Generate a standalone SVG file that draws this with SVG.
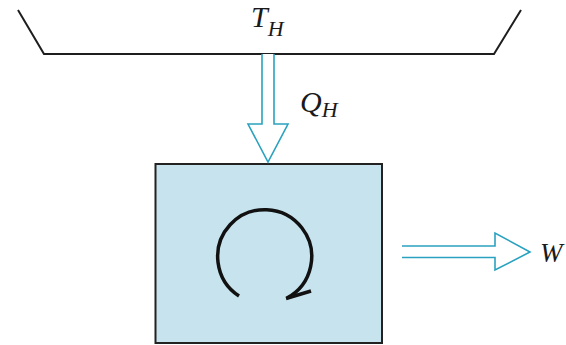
<svg xmlns="http://www.w3.org/2000/svg" width="566" height="345" viewBox="0 0 566 345">
<style>
.ink{fill:none;stroke:#1e1e1e;stroke-width:2;stroke-linejoin:miter}
.flow{fill:#ffffff;stroke:#2aa2bf;stroke-width:1.6;stroke-linejoin:miter}
.lbl{font-family:'Liberation Serif','DejaVu Serif',serif;font-style:italic;fill:#1a1a1a}
</style>
<rect width="566" height="345" fill="#ffffff"/>
<g id="reservoir">
<polyline class="ink" points="18,10 44,54 494,54 521,10"/>
<text class="lbl" x="251" y="27" font-size="30">T<tspan font-size="22" dy="9">H</tspan></text>
</g>
<g id="engine">
<rect x="155.5" y="164" width="226.5" height="179" fill="#c6e3ee" stroke="#222" stroke-width="2"/>
<path d="M239,296 A47,47 0 1 1 287,298" fill="none" stroke="#111" stroke-width="3.5"/>
<line x1="286" y1="298.5" x2="311" y2="291" stroke="#111" stroke-width="3.5"/>
</g>
<g id="connectors">
<path class="flow" d="M262,54 V124 H248 L268,162 L288,124 H274 V54"/>
<path class="flow" d="M402,246 H495 V233 L530,252 L495,270 V257.5 H402"/>
</g>
<g id="labels">
<text class="lbl" x="300" y="112" font-size="30">Q<tspan font-size="22" dy="5">H</tspan></text>
<text class="lbl" x="540" y="262" font-size="27">W</text>
</g>
</svg>
